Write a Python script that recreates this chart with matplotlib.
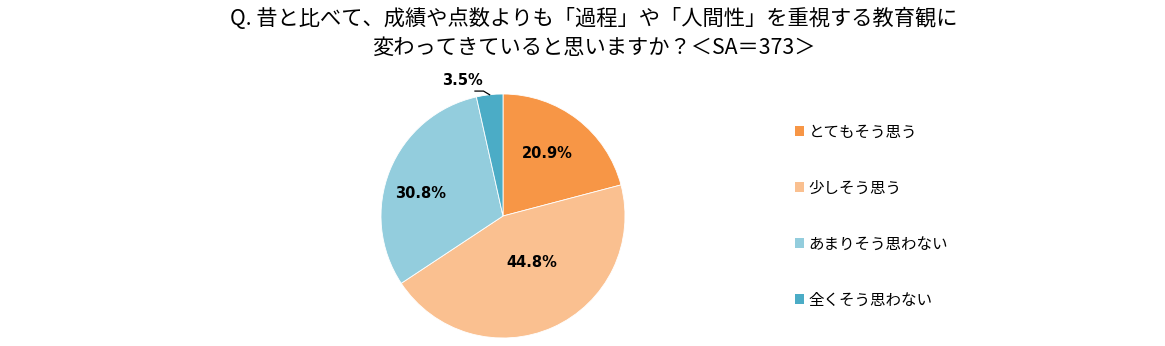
import numpy as np
import matplotlib.pyplot as plt
from matplotlib.patches import Patch

plt.rcParams['font.family'] = ['Noto Sans CJK JP', 'DejaVu Sans']

labels = ["とてもそう思う", "少しそう思う", "あまりそう思わない", "全くそう思わない"]
values = [20.9, 44.8, 30.8, 3.5]
colors = ["#F79646", "#FAC090", "#93CDDD", "#4BACC6"]
title = "Q. 昔と比べて、成績や点数よりも「過程」や「人間性」を重視する教育観に\n変わってきていると思いますか？＜SA＝373＞"

W, H = 1165, 346
fig = plt.figure(figsize=(W / 100, H / 100), dpi=100)

# pie centre / radius in pixels
cx, cy, r = 503, 216, 122
ax = fig.add_axes([(cx - 170) / W, 0, 340 / W, 1])
wedges, _ = ax.pie(values, colors=colors, startangle=90, counterclock=False,
                   wedgeprops={"edgecolor": "white", "linewidth": 0.6})
ax.set_xlim(-170 / r, 170 / r)
ax.set_ylim(-(H - cy) / r, cy / r)
ax.set_aspect('equal')
ax.axis('off')

# label distance (fraction of radius) and angle nudge, last one goes outside
dists = [0.63, 0.45, 0.70, None]
nudge = [2, 7.5, 7, 0]
for w, v, d, n in zip(wedges, values, dists, nudge):
    ang = np.deg2rad((w.theta1 + w.theta2) / 2 + n)
    x, y = np.cos(ang), np.sin(ang)
    if d is not None:
        ax.text(d * x, d * y, f"{v}%", ha="center", va="center",
                fontsize=10.5, fontweight="bold", family="DejaVu Sans")
    else:
        tx, ty = x - 0.22, y + 0.11
        ax.plot([tx + 0.1, tx + 0.17, x], [ty - 0.08, ty - 0.08, y],
                color="black", lw=0.9)
        ax.text(tx, ty + 0.01, f"{v}%", ha="center", va="center",
                fontsize=10.5, fontweight="bold", family="DejaVu Sans")

fig.text(594 / W, 1 - 33 / H, title, ha="center", va="center",
         fontsize=15.3, linespacing=1.4)

handles = [Patch(facecolor=c, edgecolor="none") for c in colors]
fig.legend(handles, labels, loc="upper left", bbox_to_anchor=(787 / W, 1 - 116 / H),
           frameon=False, fontsize=11.2, labelspacing=2.5, handlelength=0.6,
           handleheight=0.6, handletextpad=0.3, borderpad=0)

fig.savefig("out.png", dpi=100)
